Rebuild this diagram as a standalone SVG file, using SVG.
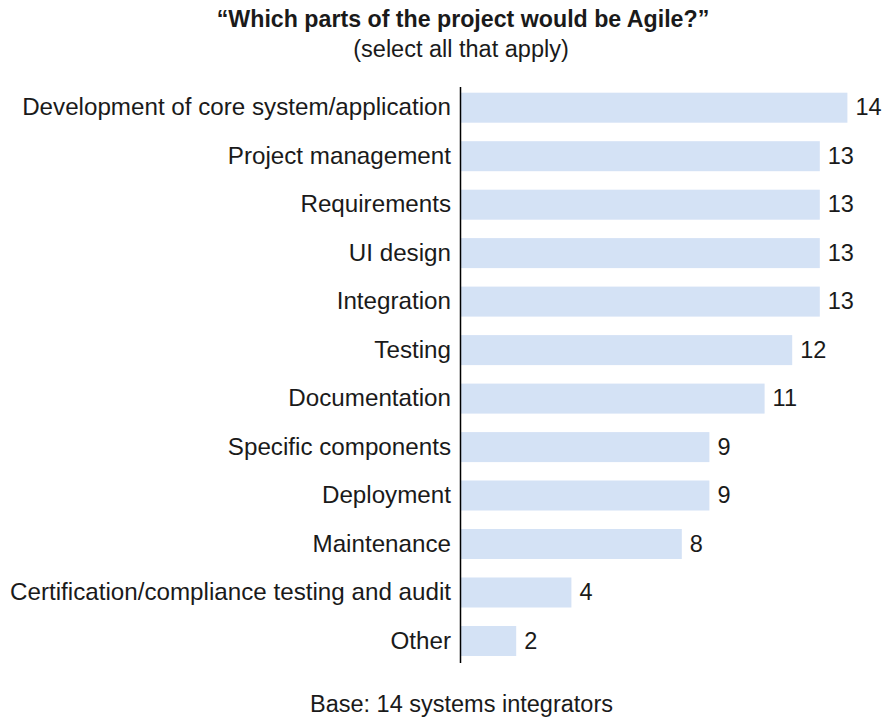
<svg xmlns="http://www.w3.org/2000/svg" width="884" height="721" viewBox="0 0 884 721">
<style>
text{font-family:"Liberation Sans",Arial,sans-serif;fill:#1a1a1a}
.t{font-size:23.2px;font-weight:bold;text-anchor:middle}
.s{font-size:23.5px;text-anchor:middle}
.l{font-size:24.2px;text-anchor:end}
.v{font-size:23.5px}
.b{fill:#d4e2f5}
.ax{stroke:#000;stroke-width:1.5}
</style>
<rect width="884" height="721" fill="#fff"/>
<g id="title">
<text class="t" x="463" y="27">“Which parts of the project would be Agile?”</text>
<text class="s" x="461" y="57">(select all that apply)</text>
</g>
<g id="r1"><rect class="b" x="461" y="92.7" width="386.4" height="30"/><text class="l" x="451" y="115.2">Development of core system/application</text><text class="v" x="855.4" y="115.2">14</text></g>
<g id="r2"><rect class="b" x="461" y="141.2" width="358.8" height="30"/><text class="l" x="451" y="163.7">Project management</text><text class="v" x="827.8" y="163.7">13</text></g>
<g id="r3"><rect class="b" x="461" y="189.7" width="358.8" height="30"/><text class="l" x="451" y="212.2">Requirements</text><text class="v" x="827.8" y="212.2">13</text></g>
<g id="r4"><rect class="b" x="461" y="238.1" width="358.8" height="30"/><text class="l" x="451" y="260.6">UI design</text><text class="v" x="827.8" y="260.6">13</text></g>
<g id="r5"><rect class="b" x="461" y="286.6" width="358.8" height="30"/><text class="l" x="451" y="309.1">Integration</text><text class="v" x="827.8" y="309.1">13</text></g>
<g id="r6"><rect class="b" x="461" y="335.1" width="331.2" height="30"/><text class="l" x="451" y="357.6">Testing</text><text class="v" x="800.2" y="357.6">12</text></g>
<g id="r7"><rect class="b" x="461" y="383.6" width="303.6" height="30"/><text class="l" x="451" y="406.1">Documentation</text><text class="v" x="772.6" y="406.1">11</text></g>
<g id="r8"><rect class="b" x="461" y="432.1" width="248.4" height="30"/><text class="l" x="451" y="454.6">Specific components</text><text class="v" x="717.4" y="454.6">9</text></g>
<g id="r9"><rect class="b" x="461" y="480.5" width="248.4" height="30"/><text class="l" x="451" y="503">Deployment</text><text class="v" x="717.4" y="503">9</text></g>
<g id="r10"><rect class="b" x="461" y="529" width="220.8" height="30"/><text class="l" x="451" y="551.5">Maintenance</text><text class="v" x="689.8" y="551.5">8</text></g>
<g id="r11"><rect class="b" x="461" y="577.5" width="110.4" height="30"/><text class="l" x="451" y="600">Certification/compliance testing and audit</text><text class="v" x="579.4" y="600">4</text></g>
<g id="r12"><rect class="b" x="461" y="626" width="55.2" height="30"/><text class="l" x="451" y="648.5">Other</text><text class="v" x="524.2" y="648.5">2</text></g>
<g id="axis"><line class="ax" x1="460.5" y1="87" x2="460.5" y2="663"/></g>
<g id="base"><text class="s" x="461.5" y="712">Base: 14 systems integrators</text></g>
</svg>
